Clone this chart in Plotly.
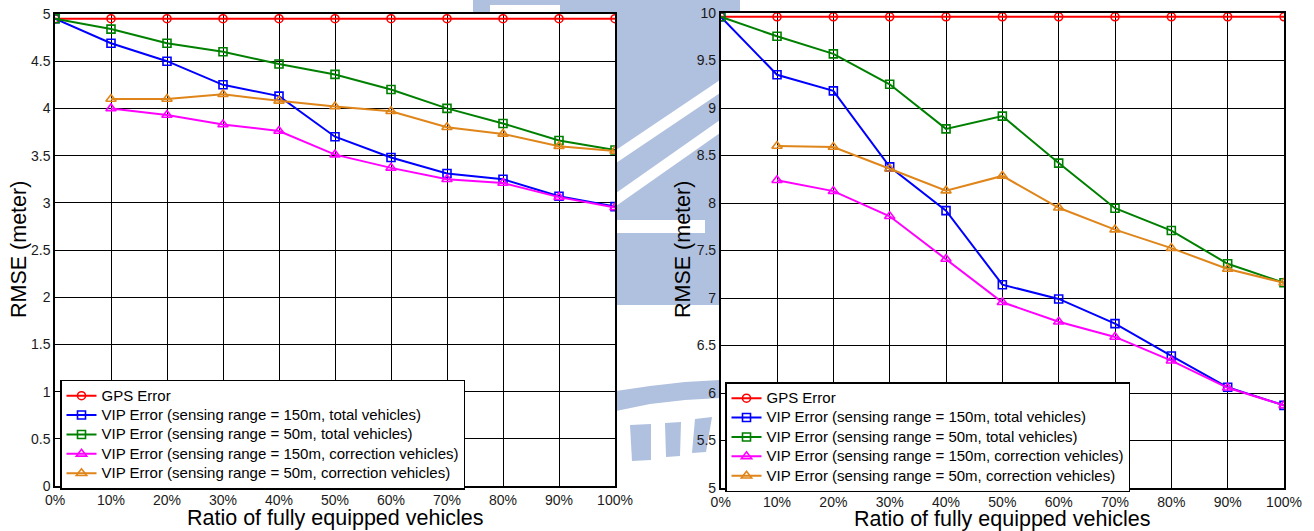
import plotly.graph_objects as go

# ---------------- data ----------------
ratio = [0, 10, 20, 30, 40, 50, 60, 70, 80, 90, 100]

# left chart
gps_left = [4.95, 4.95, 4.95, 4.95, 4.95, 4.95, 4.95, 4.95, 4.95, 4.95, 4.95]
vip150_total_left = [4.95, 4.69, 4.50, 4.25, 4.13, 3.70, 3.48, 3.31, 3.25, 3.07, 2.96]
vip50_total_left = [4.95, 4.84, 4.69, 4.60, 4.47, 4.36, 4.20, 4.00, 3.84, 3.66, 3.56]
vip150_corr_left = [None, 4.00, 3.93, 3.83, 3.76, 3.51, 3.37, 3.25, 3.21, 3.06, 2.95]
vip50_corr_left = [None, 4.10, 4.10, 4.15, 4.08, 4.02, 3.97, 3.80, 3.73, 3.60, 3.55]

# right chart
gps_right = [9.96, 9.96, 9.96, 9.96, 9.96, 9.96, 9.96, 9.96, 9.96, 9.96, 9.96]
vip150_total_right = [9.96, 9.35, 9.18, 8.38, 7.92, 7.14, 6.99, 6.73, 6.39, 6.06, 5.87]
vip50_total_right = [9.96, 9.755, 9.57, 9.25, 8.78, 8.915, 8.42, 7.945, 7.71, 7.36, 7.16]
vip150_corr_right = [None, 8.24, 8.125, 7.86, 7.41, 6.955, 6.75, 6.59, 6.34, 6.055, 5.87]
vip50_corr_right = [None, 8.60, 8.59, 8.36, 8.13, 8.285, 7.95, 7.72, 7.525, 7.305, 7.16]

names = [
    "GPS Error",
    "VIP Error (sensing range = 150m, total vehicles)",
    "VIP Error (sensing range = 50m, total vehicles)",
    "VIP Error (sensing range = 150m, correction vehicles)",
    "VIP Error (sensing range = 50m, correction vehicles)",
]

yticks_left = [0, 0.5, 1, 1.5, 2, 2.5, 3, 3.5, 4, 4.5, 5]
yticklabels_left = ["0", "0.5", "1", "1.5", "2", "2.5", "3", "3.5", "4", "4.5", "5"]
yticks_right = [5, 5.5, 6, 6.5, 7, 7.5, 8, 8.5, 9, 9.5, 10]
yticklabels_right = ["5", "5.5", "6", "6.5", "7", "7.5", "8", "8.5", "9", "9.5", "10"]
xticklabels = ["0%", "10%", "20%", "30%", "40%", "50%", "60%", "70%", "80%", "90%", "100%"]

x_title = "Ratio of fully equipped vehicles"
y_title = "RMSE (meter)"

# ---------------- style ----------------
colors = ["#ff0000", "#0000ff", "#008000", "#ff00ff", "#df8519"]
symbols = ["circle-open", "square-open", "square-open", "triangle-up-open", "triangle-up-open"]
msizes = [8, 8, 8, 9, 9]
FONT = "Liberation Sans, Arial, Helvetica, sans-serif"
WM = "#b0c0df"  # watermark blue

FW, FH = 1314, 531
ML, MR, MT, MB = 55, 30, 13, 43
PW, PH = FW - ML - MR, FH - MT - MB


def px(X):
    return (X - ML) / PW


def py(Y):
    return (FH - MB - Y) / PH


def legend_label(s):
    return f'<span style="font-size:15px">{s}</span>'


fig = go.Figure()

left_series = [gps_left, vip150_total_left, vip50_total_left, vip150_corr_left, vip50_corr_left]
right_series = [gps_right, vip150_total_right, vip50_total_right, vip150_corr_right, vip50_corr_right]

for panel, series, xa, ya, lg in (("L", left_series, "x", "y", "legend"),
                                   ("R", right_series, "x2", "y2", "legend2")):
    for i, ys in enumerate(series):
        fig.add_trace(go.Scatter(
            x=ratio, y=ys, name=legend_label(names[i]), mode="lines+markers",
            line=dict(color=colors[i], width=2),
            marker=dict(symbol=symbols[i], size=msizes[i], color=colors[i],
                        line=dict(width=1.6, color=colors[i])),
            xaxis=xa, yaxis=ya, legend=lg, connectgaps=False,
        ))

axis_common = dict(
    showgrid=True, gridcolor="black", gridwidth=1.4,
    showline=True, linecolor="black", linewidth=1.5, mirror=True,
    zeroline=False, ticks="", tickfont=dict(family=FONT, size=14, color="#1a1a1a"),
    fixedrange=True,
)

legend_common = dict(xanchor="left", yanchor="middle",
                     bgcolor="white", bordercolor="black", borderwidth=1.5,
                     font=dict(family=FONT, size=12.6, color="black"), tracegroupgap=0)

fig.update_layout(
    width=FW, height=FH,
    margin=dict(l=ML, r=MR, t=MT, b=MB, autoexpand=False),
    paper_bgcolor="white", plot_bgcolor="white",
    font=dict(family=FONT, color="black"),
    xaxis=dict(domain=[0, px(615)], range=[0, 100], tickvals=ratio, ticktext=xticklabels,
               anchor="y", **axis_common),
    yaxis=dict(domain=[py(486), py(14)], range=[0, 5], tickvals=yticks_left, ticktext=yticklabels_left,
               anchor="x", **axis_common),
    xaxis2=dict(domain=[px(720.7), 1], range=[0, 100], tickvals=ratio, ticktext=xticklabels,
                anchor="y2", **axis_common),
    yaxis2=dict(domain=[0, 1], range=[5, 10], tickvals=yticks_right, ticktext=yticklabels_right,
                anchor="x2", **axis_common),
    legend=dict(x=px(60), y=py(434.5), **legend_common),
    legend2=dict(x=px(725), y=py(437), **legend_common),
    showlegend=True,
)

# axis titles
for cx, cy in ((335, 517.5), (1002, 518.5)):
    fig.add_annotation(text=x_title, x=px(cx), y=py(cy), xref="paper", yref="paper",
                       showarrow=False, font=dict(family=FONT, size=21.5, color="black"),
                       xanchor="center", yanchor="middle")
for cx in (19, 683):
    fig.add_annotation(text=y_title, x=px(cx), y=py(250), xref="paper", yref="paper",
                       showarrow=False, textangle=-90, font=dict(family=FONT, size=21.5, color="black"),
                       xanchor="center", yanchor="middle")


# ---------------- watermark (background, only in gap) ----------------
def rect(x0, y0, x1, y1, color):
    fig.add_shape(type="rect", xref="paper", yref="paper", x0=px(x0), x1=px(x1), y0=py(y0), y1=py(y1),
                  fillcolor=color, line=dict(width=0), layer="below")


def poly(pts, color):
    path = "M " + " L ".join(f"{px(a)},{py(b)}" for a, b in pts) + " Z"
    fig.add_shape(type="path", xref="paper", yref="paper", path=path,
                  fillcolor=color, line=dict(width=0), layer="below")


rect(616, 0, 720, 305, WM)
rect(473, 0, 740, 13, WM)
rect(490, 5, 560, 13, "white")
poly([(616, 150), (720, 80), (720, 93), (616, 163)], "white")
poly([(616, 193), (720, 120), (720, 133), (616, 206)], "white")
rect(616, 220, 705, 233, "white")
poly([(616, 391), (650, 386), (685, 382), (720, 380), (720, 398), (685, 400), (650, 404), (616, 411)], WM)
poly([(630, 425), (651, 424), (651, 460), (632, 461)], WM)
poly([(665, 423), (681, 422), (680, 456), (666, 457)], WM)
poly([(695, 419), (712, 417), (706, 452), (692, 453)], WM)

fig.write_html("out.html", config={"displayModeBar": False},
               post_script="document.body.style.margin='0';")
